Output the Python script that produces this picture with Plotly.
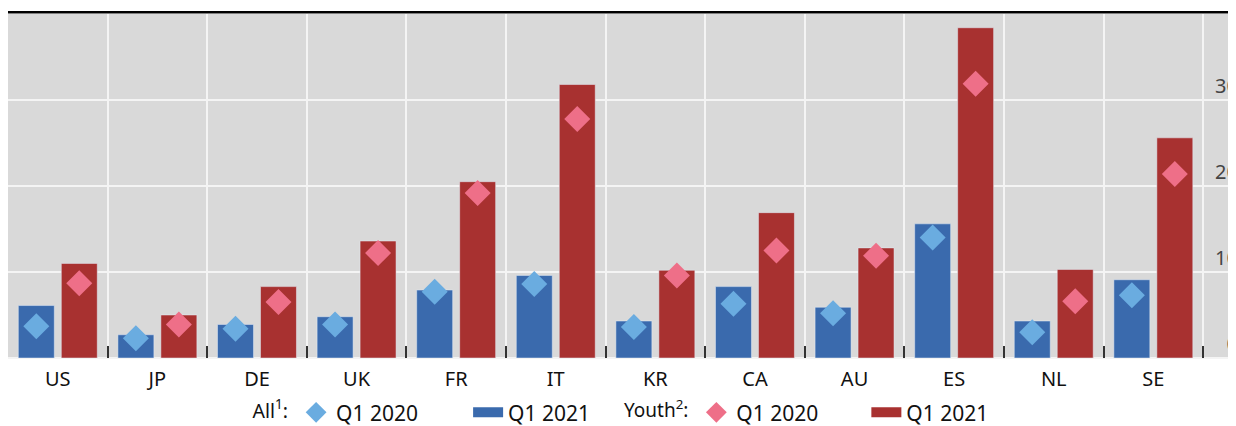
import plotly.graph_objects as go

countries = ["US", "JP", "DE", "UK", "FR", "IT", "KR", "CA", "AU", "ES", "NL", "SE"]
all_2020 = [3.7, 2.3, 3.4, 3.9, 7.7, 8.6, 3.6, 6.3, 5.2, 14.0, 3.0, 7.3]
all_2021 = [6.1, 2.7, 3.9, 4.8, 7.9, 9.6, 4.3, 8.3, 5.9, 15.6, 4.3, 9.1]
youth_2020 = [8.7, 3.9, 6.5, 12.2, 19.2, 27.8, 9.6, 12.5, 11.9, 31.9, 6.6, 21.4]
youth_2021 = [11.0, 5.0, 8.3, 13.6, 20.5, 31.8, 10.2, 16.9, 12.8, 38.4, 10.3, 25.6]
y_ticks = [0, 10, 20, 30]

BLUE_BAR = "#3a6aad"
RED_BAR = "#a83130"
BLUE_DIA = "#6aace0"
PINK_DIA = "#ee6f88"
FONT = "Noto Sans"

fig = go.Figure()
fig.add_trace(go.Bar(x=countries, y=all_2021, name="Q1 2021", marker_color=BLUE_BAR,
                     offsetgroup="all", showlegend=False))
fig.add_trace(go.Bar(x=countries, y=youth_2021, name="Q1 2021", marker_color=RED_BAR,
                     offsetgroup="youth", showlegend=False))
fig.add_trace(go.Scatter(x=countries, y=all_2020, name="Q1 2020", mode="markers",
                         marker=dict(symbol="diamond", size=20, color=BLUE_DIA),
                         offsetgroup="all", legend="legend", legendrank=1))
fig.add_trace(go.Scatter(x=countries, y=youth_2020, name="Q1 2020", mode="markers",
                         marker=dict(symbol="diamond", size=20, color=PINK_DIA),
                         offsetgroup="youth", legend="legend2", legendrank=1))
# legend swatches for the bar series (wide rectangles like the reference)
fig.add_trace(go.Scatter(x=[None], y=[None], name="Q1 2021", mode="lines",
                         line=dict(color=BLUE_BAR, width=16),
                         legend="legend", legendrank=2))
fig.add_trace(go.Scatter(x=[None], y=[None], name="Q1 2021", mode="lines",
                         line=dict(color=RED_BAR, width=16),
                         legend="legend2", legendrank=2))

legend_common = dict(orientation="h", xref="container", yref="container",
                     xanchor="left", yanchor="middle", font=dict(size=21),
                     bgcolor="rgba(0,0,0,0)", entrywidthmode="pixels")

fig.update_layout(
    width=1228, height=426,
    margin=dict(l=0, r=0, t=6, b=76, autoexpand=False),
    paper_bgcolor="white", plot_bgcolor="#d9d9d9",
    font=dict(family=FONT, size=20, color="#111111"),
    barmode="group", bargap=0.137, bargroupgap=0.163,
    scattermode="group", scattergap=0.137,
    legend=dict(x=0.1975, y=0.05, entrywidth=127,
                title=dict(text="All<sup>1</sup>:", side="left", font=dict(size=19.5)),
                **legend_common),
    legend2=dict(x=0.5, y=0.05, entrywidth=125,
                 title=dict(text="Youth<sup>2</sup>:", side="left", font=dict(size=19)),
                 **legend_common),
    xaxis=dict(type="category", range=[-0.5, 11.83], tickson="boundaries",
               automargin=False,
               showgrid=True, gridcolor="#f4f4f4", gridwidth=2,
               ticks="inside", ticklen=12, tickwidth=2, tickcolor="#333333",
               ticklabelstandoff=7,
               showline=False, zeroline=False),
    yaxis=dict(range=[0, 40], tickvals=y_ticks, side="right", automargin=False,
               ticklabelposition="inside top", ticklabelstandoff=-5,
               showgrid=True, gridcolor="#f4f4f4", gridwidth=2,
               zeroline=True, zerolinecolor="#f4f4f4", zerolinewidth=2,
               showline=False, ticks=""),
    shapes=[dict(type="line", xref="paper", yref="paper", x0=0, x1=1.0,
                 y0=1.005, y1=1.005, line=dict(color="black", width=2.5))],
)

fig.write_html("out.html")
